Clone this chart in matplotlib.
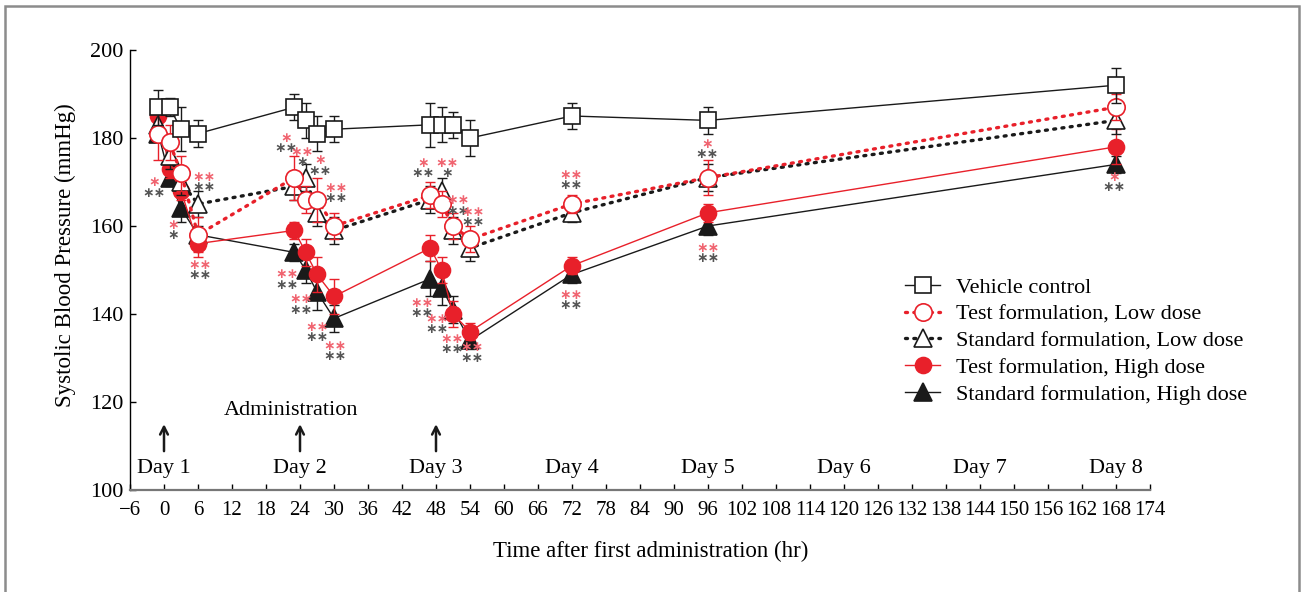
import matplotlib
matplotlib.use("Agg")
import matplotlib.pyplot as plt
from matplotlib.patches import Rectangle
from matplotlib.lines import Line2D

plt.rcParams['font.family'] = ['Liberation Serif', 'DejaVu Serif']

# ---------------- data ----------------
times = [-1, 1, 3, 6, 23, 25, 27, 30, 47, 49, 51, 54, 72, 96, 168]

vehicle      = [187, 187, 182, 181, 187, 184, 181, 182, 183, 183, 183, 180, 185, 184, 192]
vehicle_err  = [4, 2, 5, 3, 3, 4, 4, 3, 5, 4, 3, 4, 3, 3, 4]
test_low     = [181, 179, 172, 158, 171, 166, 166, 160, 167, 165, 160, 157, 165, 171, 187]
test_low_err = [6, 4, 4, 4, 5, 3, 5, 3, 3, 3, 3, 3, 2, 4, 3]
std_low      = [183, 176, 170, 165, 169, 171, 163, 159, 166, 168, 159, 155, 163, 171, 184]
std_low_err  = [3, 3, 3, 3, 3, 3, 3, 3, 3, 3, 3, 3, 2, 3, 3]
test_high    = [185, 173, 168, 156, 159, 154, 149, 144, 155, 150, 140, 136, 151, 163, 178]
test_high_err= [2, 2, 2, 3, 2, 3, 4, 4, 3, 3, 3, 2, 2, 2, 4]
std_high     = [181, 171, 164, 158, 154, 150, 145, 139, 148, 146, 141, 134, 149, 160, 174]
std_high_err = [2, 2, 3, 2, 2, 3, 4, 3, 4, 4, 3, 2, 2, 2, 2]

labels = ["Vehicle control", "Test formulation, Low dose", "Standard formulation, Low dose",
          "Test formulation, High dose", "Standard formulation, High dose"]

# significance marks: x, y (of red mark), red text (vs vehicle), black text
ann_x     = [-1.7, 1.6, 7.1, 6.4, 21.6, 24.4, 27.5, 30.4, 21.7, 24.1, 27.0, 30.2,
             45.7, 49.9, 51.8, 54.5, 45.5, 48.1, 50.8, 54.3, 71.9, 71.9, 95.9, 96.0, 167.7]
ann_y     = [169.9, 160.2, 171.1, 151.1, 180.0, 176.9, 174.9, 168.6, 149.0, 143.3, 137.1, 132.7,
             174.4, 174.4, 165.8, 163.1, 142.6, 138.9, 134.4, 132.4, 171.7, 144.4, 178.7, 155.0, 171.1]
ann_red   = ["*", "*", "**", "**", "*", "**", "*", "**", "**", "**", "**", "**",
             "*", "**", "**", "**", "**", "**", "**", "**", "**", "**", "*", "**", "*"]
ann_black = ["**", "*", "**", "**", "**", "*", "**", "**", "**", "**", "**", "**",
             "**", "*", "**", "**", "**", "**", "**", "**", "**", "**", "**", "**", "**"]

day_x = [0, 24, 48, 72, 96, 120, 144, 168]
day_labels = ["Day 1", "Day 2", "Day 3", "Day 4", "Day 5", "Day 6", "Day 7", "Day 8"]
admin_times = [0, 24, 48]

xticks = list(range(-6, 175, 6))
yticks = [100, 120, 140, 160, 180, 200]

# ---------------- style ----------------
RED = "#e8202a"
BLK = "#1a1a1a"
RED_AST = "#f06470"
BLK_AST = "#555555"
dotted = (0, (0.6, 1.9))

fig = plt.figure(figsize=(13.04, 5.92), dpi=100)
ax = fig.add_axes([130/1304, 1-490/592, 1020/1304, 440/592])

# figure frame (gray, open at bottom)
fig.add_artist(Rectangle((5/1304, -0.05), 1294/1304, 1.05 - 5.5/592, transform=fig.transFigure,
                         fill=False, edgecolor="#8c8c8c", lw=1.8, clip_on=False))

series = [
    (std_high, std_high_err, BLK, '-', 1.0, '^', BLK, 12.5, 2),
    (test_high, test_high_err, RED, '-', 1.0, 'o', RED, 11.5, 3),
    (std_low, std_low_err, BLK, dotted, 2.4, '^', 'white', 12.5, 4),
    (test_low, test_low_err, RED, dotted, 2.4, 'o', 'white', 12.5, 5),
    (vehicle, vehicle_err, BLK, '-', 1.0, 's', 'white', 11.5, 6),
]
label_order = [4, 3, 2, 1, 0]
handles = {}
for (vals, err, col, ls, lw, mk, mfc, ms, z), li in zip(series, label_order):
    ax.errorbar(times, vals, yerr=err, fmt='none', ecolor=col, elinewidth=1.0,
                capsize=3.5, capthick=1.0, zorder=z)
    ax.plot(times, vals, color=col, linestyle=ls, lw=lw, marker=mk, ms=ms,
            mfc=mfc, mec=col, mew=1.2, zorder=z + 0.1, dash_capstyle='round')
    handles[li] = Line2D([], [], color=col, linestyle=ls, lw=lw, marker=mk, ms=ms,
                         mfc=mfc, mec=col, mew=1.2, dash_capstyle='round')

# significance asterisks
for x, y, r, b in zip(ann_x, ann_y, ann_red, ann_black):
    ax.text(x, y, r.replace("*", "\u2217"), color=RED_AST, ha='center', va='center',
            fontsize=10, family='DejaVu Sans', fontweight='bold', zorder=10)
    ax.text(x, y - 2.3, b.replace("*", "\u2217"), color=BLK_AST, ha='center', va='center',
            fontsize=10, family='DejaVu Sans', fontweight='bold', zorder=10)

# day labels & administration arrows
for x, t in zip(day_x, day_labels):
    ax.text(x, 104.9, t, ha='center', va='center', fontsize=16)
for t in admin_times:
    ax.annotate('', xy=(t, 115.6), xytext=(t, 108.2),
                arrowprops=dict(arrowstyle='->,head_length=0.55,head_width=0.28', lw=1.8, color=BLK))
ax.text(22.5, 118.1, "Administration", ha='center', va='center', fontsize=16)

ax.set_xlim(-6, 174)
ax.set_ylim(100, 200)
ax.set_xticks(xticks)
ax.set_yticks(yticks)
ax.spines['top'].set_visible(False)
ax.spines['right'].set_visible(False)
ax.spines['bottom'].set_color("#777777")
ax.spines['bottom'].set_linewidth(1.6)
ax.spines['left'].set_linewidth(1.0)
ax.tick_params(axis='both', direction='in', length=4, width=1.0)
ax.tick_params(axis='x', pad=8, labelsize=15)
ax.tick_params(axis='y', pad=5, labelsize=16)

ax.set_ylabel("Systolic Blood Pressure (mmHg)", fontsize=16.5)
ax.yaxis.set_label_coords(-0.053, 0.534)
ax.set_xlabel("Time after first administration (hr)", fontsize=16.5)
ax.xaxis.set_label_coords(0.51, -0.116)

ax.legend([handles[i] for i in range(5)], labels, loc='upper left',
          bbox_to_anchor=(0.751, 0.504), frameon=False, fontsize=16,
          handlelength=1.6, handletextpad=0.68, labelspacing=0.28, borderaxespad=0)

fig.savefig("out.png", dpi=100)
